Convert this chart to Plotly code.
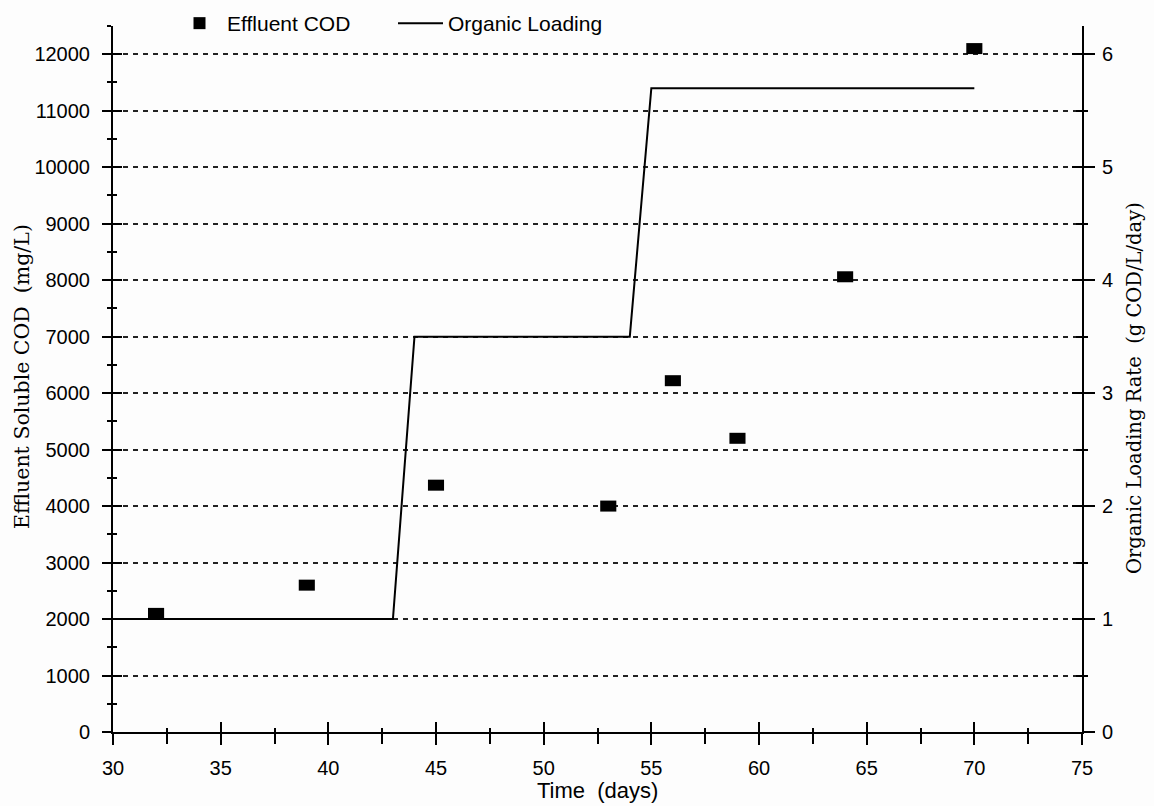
import plotly.graph_objects as go

# Effluent soluble COD measurements (mg/L)
cod_days = [32, 39, 45, 53, 56, 59, 64, 70]
cod_values = [2100, 2600, 4370, 4000, 6220, 5200, 8060, 12100]

# Organic loading rate schedule (g COD/L/day)
olr_days = [30, 43, 44, 54, 55, 70]
olr_values = [1.0, 1.0, 3.5, 3.5, 5.7, 5.7]

left_ticks = list(range(0, 12001, 1000))
right_ticks = [0, 1, 2, 3, 4, 5, 6]
x_ticks = list(range(30, 76, 5))

W, H = 1154, 806
ML, MR, MT, MB = 113, 72, 26, 74
PW, PH = W - ML - MR, H - MT - MB

def px_x(p):
    return (p - ML) / PW

def px_y(p):
    return (H - MB - p) / PH

tick_font = dict(family="Liberation Sans, Arial, sans-serif", size=20, color="black")
inner_tick = "black"

fig = go.Figure()

fig.add_trace(go.Scatter(
    x=cod_days, y=cod_values, mode="markers", name="Effluent COD", showlegend=False,
    marker=dict(symbol="line-ew", size=11.5, color="black",
                line=dict(color="black", width=11)),
    xaxis="x", yaxis="y",
))
# legend entry for the COD markers (block symbol)
fig.add_trace(go.Scatter(
    x=[None], y=[None], mode="markers", name="Effluent COD", legendrank=1,
    marker=dict(symbol="square", size=12, color="black"),
    xaxis="x", yaxis="y", hoverinfo="skip",
))
fig.add_trace(go.Scatter(
    x=olr_days, y=olr_values, mode="lines", name="Organic Loading", legendrank=2,
    line=dict(color="black", width=2),
    xaxis="x", yaxis="y2",
))

# empty traces so the overlaid tick-only axes (ticks on the inner side) get drawn
fig.add_trace(go.Scatter(x=[None], y=[None], xaxis="x2", yaxis="y3",
                         showlegend=False, hoverinfo="skip"))
fig.add_trace(go.Scatter(x=[None], y=[None], xaxis="x2", yaxis="y4",
                         showlegend=False, hoverinfo="skip"))

x_range = [30, 75]
y_range = [0, 12500]
y2_range = [0, 6.25]

fig.update_layout(
    width=W, height=H,
    margin=dict(l=ML, r=MR, t=MT, b=MB, autoexpand=False),
    paper_bgcolor="#fdfdfd", plot_bgcolor="#fdfdfd",
    showlegend=True,
    legend=dict(orientation="h", x=px_x(172), y=px_y(3), xanchor="left", yanchor="top",
                font=dict(family="Liberation Sans, Arial, sans-serif", size=21, color="black"),
                bgcolor="rgba(0,0,0,0)", entrywidth=161, itemwidth=45),
    xaxis=dict(range=x_range, tickvals=x_ticks, ticks="outside", ticklen=11,
               tickwidth=2, tickcolor="black", showline=True, linecolor="black", linewidth=2,
               showgrid=False, zeroline=False, tickfont=tick_font, ticklabelstandoff=6,
               minor=dict(dtick=2.5, tick0=30, ticks="outside", ticklen=10, tickwidth=2,
                          tickcolor="black", showgrid=False)),
    xaxis2=dict(range=x_range, overlaying="x", anchor="y3", side="bottom",
                tickvals=x_ticks, ticks="inside", ticklen=10, tickwidth=2,
                tickcolor=inner_tick, showticklabels=False, showline=False, showgrid=False,
                zeroline=False,
                minor=dict(dtick=2.5, tick0=30, ticks="inside", ticklen=4, tickwidth=2,
                           tickcolor=inner_tick, showgrid=False)),
    yaxis=dict(range=y_range, tickvals=left_ticks, ticktext=[str(v) for v in left_ticks],
               ticks="outside", ticklen=9, tickwidth=2, tickcolor="black",
               showline=True, linecolor="black", linewidth=2, zeroline=False,
               showgrid=True, gridcolor="#222", gridwidth=1.5, griddash="5px,5px",
               tickfont=tick_font, ticklabelstandoff=8,
               minor=dict(dtick=500, tick0=0, ticks="outside", ticklen=4, tickwidth=2,
                          tickcolor="black", showgrid=False)),
    yaxis3=dict(range=y_range, overlaying="y", anchor="x2", side="left",
                tickvals=left_ticks, ticks="inside", ticklen=9, tickwidth=2,
                tickcolor=inner_tick,
                showticklabels=False, showline=False, showgrid=False, zeroline=False,
                minor=dict(dtick=500, tick0=0, ticks="inside", ticklen=4, tickwidth=2,
                           tickcolor=inner_tick, showgrid=False)),
    yaxis2=dict(range=y2_range, overlaying="y", anchor="x", side="right",
                tickvals=right_ticks, ticks="outside", ticklen=11, tickwidth=2,
                tickcolor="black", showline=True, linecolor="black", linewidth=2,
                showgrid=False, zeroline=False, tickfont=tick_font, ticklabelstandoff=3,
                minor=dict(dtick=0.5, tick0=0, ticks="outside", ticklen=4, tickwidth=2,
                           tickcolor="black", showgrid=False)),
    yaxis4=dict(range=y2_range, overlaying="y", anchor="x2", side="right",
                tickvals=right_ticks, ticks="inside", ticklen=10, tickwidth=2,
                tickcolor=inner_tick, showticklabels=False, showline=False, showgrid=False,
                zeroline=False,
                minor=dict(dtick=0.5, tick0=0, ticks="inside", ticklen=6, tickwidth=2,
                           tickcolor=inner_tick, showgrid=False)),
    annotations=[
        dict(text="Effluent Soluble COD  (mg/L)", textangle=-90, xref="paper", yref="paper",
             x=px_x(22), y=px_y(377), xanchor="center", yanchor="middle", showarrow=False,
             font=dict(family="DejaVu Serif, serif", size=20.5, color="black")),
        dict(text="Organic Loading Rate  (g COD/L/day)", textangle=-90, xref="paper",
             yref="paper", x=px_x(1134), y=px_y(388), xanchor="center", yanchor="middle",
             showarrow=False, font=dict(family="DejaVu Serif, serif", size=19.5, color="black")),
        dict(text="Time  (days)", xref="paper", yref="paper", x=px_x(597), y=px_y(790),
             xanchor="center", yanchor="middle", showarrow=False,
             font=dict(family="Liberation Sans, Arial, sans-serif", size=22, color="black")),
    ],
)

fig.write_html("out.html")
